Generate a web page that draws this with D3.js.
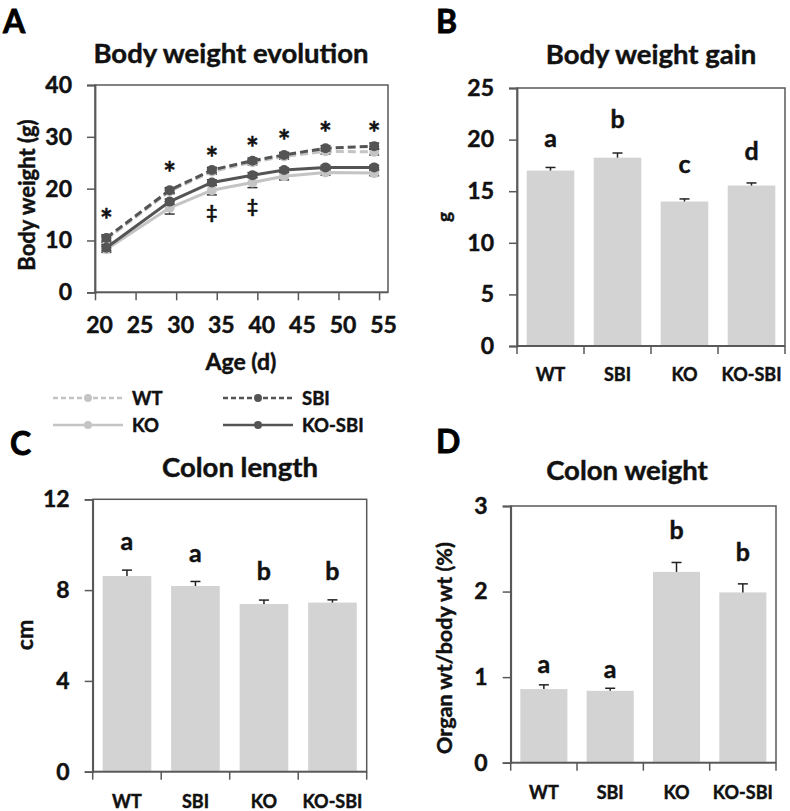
<!DOCTYPE html>
<html><head><meta charset="utf-8">
<script src="https://cdn.jsdelivr.net/npm/d3@7"></script>
<style>
html,body{margin:0;padding:0;background:#fff;}
svg{display:block;font-family:Lato,"Open Sans",sans-serif;font-weight:bold;}
svg text{stroke:#111;stroke-width:0.45px;paint-order:stroke;}
</style></head>
<body><svg id="chart" width="790" height="811"></svg>
<script>
// ---------- Data ----------
const ages = [21.4, 29.2, 34.4, 39.4, 43.3, 48.4, 54.4];
const wtWeight = [10.2, 19.5, 23.3, 25.1, 26.2, 27.2, 27.1];
const sbiWeight = [10.5, 19.7, 23.6, 25.4, 26.5, 27.8, 28.2];
const koWeight = [8.3, 16.3, 19.7, 21.2, 22.4, 23.1, 23.0];
const koSbiWeight = [8.6, 17.5, 21.2, 22.6, 23.6, 24.1, 24.1];
const wtErr = [0.6, 0.5, 0.5, 0.5, 0.5, 0.5, 0.6];
const sbiErr = [0.6, 0.5, 0.5, 0.5, 0.5, 0.5, 0.6];
const koErr = [0.6, 1.2, 0.9, 1.0, 0.7, 0.5, 0.5];
const koSbiErr = [0.6, 0.5, 0.5, 0.5, 0.4, 0.4, 0.4];
const asteriskY = [14.9, 23.9, 26.9, 28.9, 30.1, 31.7, 31.7];
const daggerAges = [34.4, 39.4];
const daggerY = [15.4, 16.7];
const ageTicks = [20, 25, 30, 35, 40, 45, 50, 55];
const weightTicks = [0, 10, 20, 30, 40];

const groups = ["WT", "SBI", "KO", "KO-SBI"];
const gainMean = [17.0, 18.25, 14.0, 15.55];
const gainErr = [0.3, 0.45, 0.25, 0.25];
const gainLetters = ["a", "b", "c", "d"];
const gainLetterY = [19.3, 21.1, 16.8, 18.0];
const gainTicks = [0, 5, 10, 15, 20, 25];

const lengthMean = [8.62, 8.18, 7.39, 7.45];
const lengthErr = [0.26, 0.2, 0.17, 0.12];
const lengthLetters = ["a", "a", "b", "b"];
const lengthLetterY = [9.77, 9.25, 8.45, 8.45];
const lengthTicks = [0, 4, 8, 12];

const colonWtMean = [0.86, 0.84, 2.23, 1.99];
const colonWtErr = [0.05, 0.03, 0.11, 0.1];
const colonWtLetters = ["a", "a", "b", "b"];
const colonWtLetterY = [1.044, 0.99, 2.62, 2.36];
const colonWtTicks = [0, 1, 2, 3];

// ---------- Drawing ----------
const svg = d3.select("#chart");
svg.append("rect").attr("width", 790).attr("height", 811).attr("fill", "#fff");
const AX = "#595959";
const LIGHT = "#c4c4c4", DARK = "#545454";

function panelLetter(t, x, y) {
  svg.append("text").attr("x", x).attr("y", y).attr("font-size", 32).attr("fill", "#000")
    .style("stroke", "#000").style("stroke-width", "0.8px").text(t);
}
function title(t, x, y) {
  svg.append("text").attr("x", x).attr("y", y).attr("text-anchor", "middle")
    .attr("font-size", 27.5).attr("fill", "#111").text(t);
}
function box(x0, y0, x1, y1) {
  svg.append("rect").attr("x", x0).attr("y", y0).attr("width", x1 - x0).attr("height", y1 - y0)
    .attr("fill", "none").attr("stroke", AX).attr("stroke-width", 1.5);
}
function styleTickText(sel, size) {
  sel.attr("font-size", size).attr("fill", "#111")
    .attr("font-family", "Lato, sans-serif").attr("font-weight", "bold");
}
function yAxis(y, x0, ticks) {
  const g = svg.append("g").attr("transform", `translate(${x0},0)`)
    .call(d3.axisLeft(y).tickValues(ticks).tickSize(8).tickPadding(15).tickFormat(d3.format("d")));
  g.select(".domain").attr("stroke", AX).attr("stroke-width", 1.8);
  g.selectAll(".tick line").attr("stroke", AX).attr("stroke-width", 1.5);
  styleTickText(g.selectAll(".tick text"), 23);
  return g;
}

// ===== Panel A =====
panelLetter("A", 3, 33);
title("Body weight evolution", 231, 63);
const xA = d3.scaleLinear().domain([20, 56.1]).range([95, 388]);
const yA = d3.scaleLinear().domain([0, 40]).range([292.3, 85]);
box(95, 85, 388, 292.3);
yAxis(yA, 95, weightTicks);
{
  const g = svg.append("g").attr("transform", "translate(0,292.3)")
    .call(d3.axisBottom(xA).tickValues(ageTicks).tickSize(8).tickPadding(16).tickFormat(d3.format("d")));
  g.select(".domain").remove();
  g.selectAll(".tick line").attr("stroke", AX).attr("stroke-width", 1.5);
  styleTickText(g.selectAll(".tick text").attr("dx", 4), 23);
  svg.append("line").attr("x1", 95).attr("x2", 388).attr("y1", 292.3).attr("y2", 292.3)
    .attr("stroke", AX).attr("stroke-width", 1.8);
}
svg.append("text").attr("transform", "translate(35,195) rotate(-90)").attr("text-anchor", "middle")
  .attr("font-size", 22).attr("fill", "#111").text("Body weight (g)");
svg.append("text").attr("x", 241).attr("y", 370).attr("text-anchor", "middle")
  .attr("font-size", 23).attr("fill", "#111").text("Age (d)");

const series = [
  {name: "KO", vals: koWeight, err: koErr, color: LIGHT, dash: null},
  {name: "WT", vals: wtWeight, err: wtErr, color: LIGHT, dash: "8,4"},
  {name: "KO-SBI", vals: koSbiWeight, err: koSbiErr, color: DARK, dash: null},
  {name: "SBI", vals: sbiWeight, err: sbiErr, color: DARK, dash: "8,4"}
];
const line = d3.line().x(d => xA(d[0])).y(d => yA(d[1]));
series.forEach(s => {
  const pts = ages.map((a, i) => [a, s.vals[i], s.err[i]]);
  const g = svg.append("g");
  pts.forEach(p => {
    const x = xA(p[0]);
    g.append("line").attr("x1", x).attr("x2", x).attr("y1", yA(p[1] - p[2])).attr("y2", yA(p[1] + p[2]))
      .attr("stroke", "#333").attr("stroke-width", 1.2);
    [p[1] - p[2], p[1] + p[2]].forEach(v => g.append("line").attr("x1", x - 5).attr("x2", x + 5)
      .attr("y1", yA(v)).attr("y2", yA(v)).attr("stroke", "#333").attr("stroke-width", 1.5));
  });
  g.append("path").datum(pts).attr("d", line).attr("fill", "none").attr("stroke", s.color)
    .attr("stroke-width", 3).attr("stroke-dasharray", s.dash);
  g.selectAll("circle").data(pts).join("circle").attr("cx", d => xA(d[0])).attr("cy", d => yA(d[1]))
    .attr("r", 5).attr("fill", s.color);
});
svg.selectAll("text.ast").data(ages).join("text").attr("class", "ast")
  .attr("x", d => xA(d)).attr("y", (d, i) => yA(asteriskY[i]) + 16)
  .attr("text-anchor", "middle").attr("font-size", 30).attr("fill", "#111").text("*");
svg.selectAll("text.dag").data(daggerAges).join("text").attr("class", "dag")
  .attr("x", d => xA(d)).attr("y", (d, i) => yA(daggerY[i]) + 7)
  .attr("text-anchor", "middle").attr("font-size", 19).attr("fill", "#111").text("‡");

// legend
const legendItems = [
  {name: "WT", color: LIGHT, dash: "5,3", x: 53, y: 398},
  {name: "SBI", color: DARK, dash: "5,3", x: 223, y: 398},
  {name: "KO", color: LIGHT, dash: null, x: 53, y: 425},
  {name: "KO-SBI", color: DARK, dash: null, x: 223, y: 425}
];
legendItems.forEach(l => {
  svg.append("line").attr("x1", l.x).attr("x2", l.x + 70).attr("y1", l.y).attr("y2", l.y)
    .attr("stroke", l.color).attr("stroke-width", 2.5).attr("stroke-dasharray", l.dash);
  svg.append("circle").attr("cx", l.x + 35).attr("cy", l.y).attr("r", 4).attr("fill", l.color);
  svg.append("text").attr("x", l.x + 79).attr("y", l.y + 6.5).attr("font-size", 18.5).attr("fill", "#111").text(l.name);
});

// ===== Bar panels =====
function barPanel(o) {
  const x = d3.scaleBand().domain(groups).range([o.x0, o.x1]).paddingInner(0.29).paddingOuter(0.145);
  const y = d3.scaleLinear().domain([0, o.max]).range([o.y0, o.y1]);
  box(o.x0, o.y1, o.x1, o.y0);
  const g = svg.append("g");
  g.selectAll("rect").data(groups).join("rect")
    .attr("x", d => x(d)).attr("width", x.bandwidth())
    .attr("y", (d, i) => y(o.mean[i])).attr("height", (d, i) => o.y0 - y(o.mean[i]))
    .attr("fill", "#d3d3d3");
  groups.forEach((d, i) => {
    const cx = x(d) + x.bandwidth() / 2;
    g.append("line").attr("x1", cx).attr("x2", cx).attr("y1", y(o.mean[i])).attr("y2", y(o.mean[i] + o.err[i]))
      .attr("stroke", "#222").attr("stroke-width", 1.5);
    g.append("line").attr("x1", cx - 5).attr("x2", cx + 5).attr("y1", y(o.mean[i] + o.err[i]))
      .attr("y2", y(o.mean[i] + o.err[i])).attr("stroke", "#222").attr("stroke-width", 1.5);
    g.append("text").attr("x", cx).attr("y", y(o.letterY[i])).attr("text-anchor", "middle")
      .attr("font-size", 25).attr("fill", "#111").text(o.letters[i]);
    g.append("text").attr("x", cx).attr("y", o.labelY).attr("text-anchor", "middle")
      .attr("font-size", 18).attr("fill", "#111").text(d);
  });
  yAxis(y, o.x0, o.ticks);
  const bounds = d3.range(groups.length + 1).map(i => o.x0 + i * (o.x1 - o.x0) / groups.length);
  svg.selectAll(null).data(bounds).join("line").attr("x1", d => d).attr("x2", d => d)
    .attr("y1", o.y0).attr("y2", o.y0 + 8).attr("stroke", AX).attr("stroke-width", 1.5);
  svg.append("line").attr("x1", o.x0).attr("x2", o.x1).attr("y1", o.y0).attr("y2", o.y0)
    .attr("stroke", AX).attr("stroke-width", 1.8);
  svg.append("text").attr("transform", `translate(${o.labX},${o.labY}) rotate(-90)`)
    .attr("text-anchor", "middle").attr("font-size", o.labSize).attr("fill", "#111").text(o.ylabel);
}

panelLetter("B", 436, 33);
title("Body weight gain", 651, 64);
barPanel({x0: 517, x1: 785, y0: 346, y1: 88, max: 25, mean: gainMean, err: gainErr,
  letters: gainLetters, letterY: gainLetterY, ticks: gainTicks, labelY: 381,
  ylabel: "g", labX: 451, labY: 217, labSize: 19});

panelLetter("C", 10, 455);
title("Colon length", 240, 477);
barPanel({x0: 92.7, x1: 366.7, y0: 771.7, y1: 499.3, max: 12, mean: lengthMean, err: lengthErr,
  letters: lengthLetters, letterY: lengthLetterY, ticks: lengthTicks, labelY: 808,
  ylabel: "cm", labX: 33, labY: 635, labSize: 23});

panelLetter("D", 436, 453);
title("Colon weight", 627, 480);
barPanel({x0: 510.7, x1: 776, y0: 762.7, y1: 506, max: 3, mean: colonWtMean, err: colonWtErr,
  letters: colonWtLetters, letterY: colonWtLetterY, ticks: colonWtTicks, labelY: 799,
  ylabel: "Organ wt/body wt (%)", labX: 452, labY: 648, labSize: 21.5});
</script></body></html>
